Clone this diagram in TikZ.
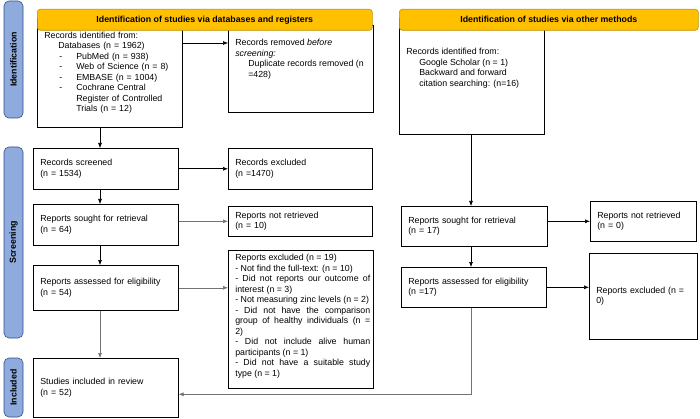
\documentclass[tikz,border=0pt]{standalone}
\usepackage{fontspec}
\setmainfont{Liberation Sans}
\usepackage{xcolor}
\usetikzlibrary{arrows.meta}
\usetikzlibrary{calc}
\usetikzlibrary{positioning}
\definecolor{barblue}{HTML}{8FAADC}
\definecolor{barline}{HTML}{2F528F}
\definecolor{hdrgold}{HTML}{FFC000}
\definecolor{hdrline}{HTML}{BF9000}

\begin{document}
\begin{tikzpicture}[x=1pt, y=-1pt, >={Latex[length=5pt,width=4pt]}, semithick, font=\fontsize{8.8}{10.5}\selectfont]
  \tikzstyle{box}=[draw, rectangle, anchor=north west, inner xsep=7pt, inner ysep=2pt, align=left]
  \tikzstyle{txt}=[anchor=north west, inner sep=0pt, align=left]
  \tikzstyle{hdr}=[draw=hdrline, fill=hdrgold, rounded corners=3pt, anchor=north west, font=\fontsize{8.8}{10.5}\selectfont\bfseries]
  \tikzstyle{phase}=[draw=barline, fill=barblue, rounded corners=5pt, rotate=90, minimum height=19pt, inner sep=0pt, font=\fontsize{8.8}{10.5}\selectfont\bfseries]
  \tikzstyle{faint}=[draw=black!55]
  \useasboundingbox (0,0) rectangle (700,419);

  % phase bars
  \node[phase, minimum width=117pt] (idbar)  at (13.5,59.5)  {Identification};
  \node[phase, minimum width=191pt] (scrbar) at (13.5,242.5) {Screening};
  \node[phase, minimum width=59pt]  (incbar) at (13.5,387.5) {Included};

  % databases and registers
  \node[box, text width=131pt, minimum height=109pt] (idL) at (37,18)
    {Records identified from:\\
     \hspace*{14pt}Databases (n = 1962)\\
     \hspace*{15pt}\makebox[17pt][l]{-}PubMed (n = 938)\\
     \hspace*{15pt}\makebox[17pt][l]{-}Web of Science (n = 8)\\
     \hspace*{15pt}\makebox[17pt][l]{-}EMBASE (n = 1004)\\
     \hspace*{15pt}\makebox[17pt][l]{-}Cochrane Central\\
     \hspace*{32pt}Register of Controlled\\
     \hspace*{32pt}Trials (n = 12)};
  \node[box, minimum width=145pt, minimum height=87pt] (removed) at (228,25) {};
  \node[txt] (removedtxt) at (235,39)
    {Records removed \textit{before}\\
     \textit{screening:}\\
     \hspace*{13pt}Duplicate records removed (n\\
     \hspace*{13pt}=428)};
  \node[box, text width=131pt, minimum height=41pt] (screened) at (33,148)
    {Records screened\\(n = 1534)};
  \node[box, text width=130pt, minimum height=41pt] (excluded) at (228,148)
    {Records excluded\\(n =1470)};
  \node[box, text width=131pt, minimum height=41pt] (soughtL) at (33,204)
    {Reports sought for retrieval\\(n = 64)};
  \node[box, text width=130pt, minimum height=30pt] (notretL) at (228,206)
    {Reports not retrieved\\(n = 10)};
  \node[box, text width=131pt, minimum height=45pt] (assessedL) at (33,265)
    {Reports assessed for eligibility\\(n = 54)};
  \node[box, minimum width=145pt, minimum height=138pt] (excl19) at (228,250) {};
  \node[txt, text width=135pt, align=justify] (excl19txt) at (235,254)
    {Reports excluded (n = 19)\\
     - Not find the full-text: (n = 10)\\
     - Did not reports our outcome of\linebreak interest (n = 3)\\
     - Not measuring zinc levels (n = 2)\\
     - Did not have the comparison\linebreak group of healthy individuals (n =\linebreak 2)\\
     - Did not include alive human\linebreak participants (n = 1)\\
     - Did not have a suitable study\linebreak type (n = 1)};
  \node[box, text width=131pt, minimum height=59pt] (studies) at (33,358)
    {Studies included in review\\(n = 52)};

  % other methods
  \node[box, minimum width=145pt, minimum height=116pt] (idR) at (399,18) {};
  \node[txt] (idRtxt) at (406,48)
    {Records identified from:\\
     \hspace*{13pt}Google Scholar (n = 1)\\
     \hspace*{13pt}Backward and forward\\
     \hspace*{13pt}citation searching: (n=16)};
  \node[box, text width=132pt, minimum height=40pt] (soughtR) at (401,206)
    {Reports sought for retrieval\\(n = 17)};
  \node[box, text width=92pt, minimum height=40pt] (notretR) at (590,201)
    {Reports not retrieved\\(n = 0)};
  \node[box, text width=131pt, minimum height=40pt] (assessedR) at (401,267)
    {Reports assessed for eligibility\\(n =17)};
  \node[box, text width=94pt, minimum height=86pt] (exclR) at (589,253)
    {Reports excluded (n =\\0)};

  % headers
  \node[hdr, minimum width=335pt, minimum height=21pt] (hdrL) at (37,9)
    {Identification of studies via databases and registers};
  \node[hdr, minimum width=299pt, minimum height=21pt] (hdrR) at (399,9)
    {Identification of studies via other methods};

  % connectors
  \coordinate (colL) at (100,0);
  \coordinate (colR) at (471,0);
  \draw[->] (idL.south -| colL) -- (screened.north -| colL);
  \draw[->] (screened.south -| colL) -- (soughtL.north -| colL);
  \draw[->] (soughtL.south -| colL) -- (assessedL.north -| colL);
  \draw[->, faint] (assessedL.south -| colL) -- (studies.north -| colL);
  \draw[->] ([yshift=-25pt]idL.north east) coordinate (idLout) -- (idLout -| removed.west);
  \draw[->] (screened) -- (excluded);
  \draw[->, faint] (soughtL.east |- notretL.west) -- (notretL.west);
  \draw[->, faint] (assessedL.east) -- (assessedL.east -| excl19.west);
  \draw[->] (idR.south -| colR) -- (soughtR.north -| colR);
  \draw[->] (soughtR.south -| colR) -- (assessedR.north -| colR);
  \draw[->] (soughtR.east |- notretR.west) -- (notretR.west);
  \draw[->] (assessedR.east) -- (assessedR.east -| exclR.west);
  \draw[->, faint] (assessedR.south -| colR) |- ([yshift=-6.5pt]studies.east);
\end{tikzpicture}
\end{document}
